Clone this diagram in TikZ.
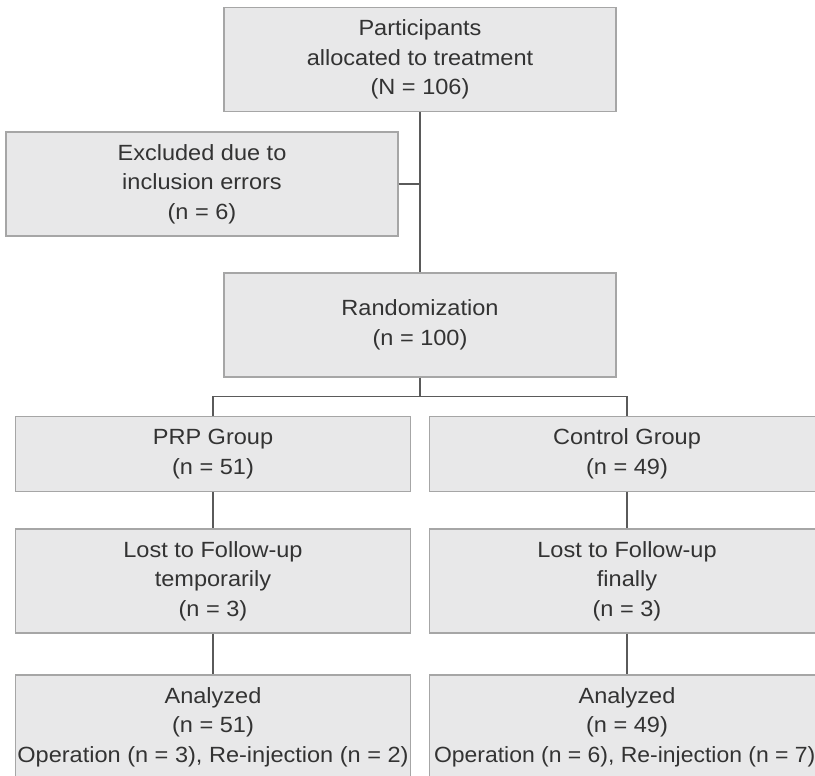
\documentclass[tikz,border=0pt]{standalone}
\usepackage{graphicx}
\usepackage{fontspec}
\setmainfont{Liberation Sans}[FakeStretch=1.07]
\definecolor{boxfill}{HTML}{E8E8E9}
\definecolor{boxline}{HTML}{A6A6A6}
\definecolor{connline}{HTML}{5A5A5A}
\definecolor{txt}{HTML}{333333}
\begin{document}
\begin{tikzpicture}[x=1pt,y=-1pt,
  flowbox/.style={draw=boxline,line width=1.3pt,fill=boxfill,rectangle,
    minimum width=392pt,minimum height=104pt,inner sep=0pt,align=center,
    text=txt,font=\fontsize{22pt}{29.5pt}\selectfont},
  shortbox/.style={flowbox,minimum height=75.5pt},
  conn/.style={draw=connline,line width=1.5pt}]
\useasboundingbox (0,0) rectangle (815,776);
\node[flowbox] (top) at (420,59.5) {Participants\\allocated to treatment\\(N = 106)};
\node[flowbox] (excl) at (202,184) {Excluded due to\\inclusion errors\\(n = 6)};
\node[flowbox] (rand) at (420,325) {Randomization\\(n = 100)};
\node[shortbox,minimum width=395pt] (prp) at (213,454) {PRP Group\\(n = 51)};
\node[shortbox,minimum width=395pt] (ctrl) at (627,454) {Control Group\\(n = 49)};
\node[flowbox,minimum width=395pt] (lostL) at (213,581) {Lost to Follow-up\\temporarily\\(n = 3)};
\node[flowbox,minimum width=395pt] (lostR) at (627,581) {Lost to Follow-up\\finally\\(n = 3)};
\node[flowbox,minimum width=395pt] (anaL) at (213,727) {Analyzed\\(n = 51)\\\makebox[370pt][c]{Operation (n = 3), Re-injection (n = 2)}};
\node[flowbox,minimum width=395pt] (anaR) at (627,727) {Analyzed\\(n = 49)\\\makebox[370pt][l]{\kern-8pt\scalebox{0.975}[1]{Operation (n = 6), Re-injection (n = 7)}}};
\coordinate (fork) at (420,396.5);
\draw[conn] (top.south) -- (rand.north);
\draw[conn] (excl.east) -- (excl.east -| top.south);
\draw[conn] (rand.south) -- (fork);
\draw[conn] (fork) -| (prp.north);
\draw[conn] (fork) -| (ctrl.north);
\draw[conn] (prp.south) -- (lostL.north);
\draw[conn] (ctrl.south) -- (lostR.north);
\draw[conn] (lostL.south) -- (anaL.north);
\draw[conn] (lostR.south) -- (anaR.north);
\end{tikzpicture}
\end{document}
